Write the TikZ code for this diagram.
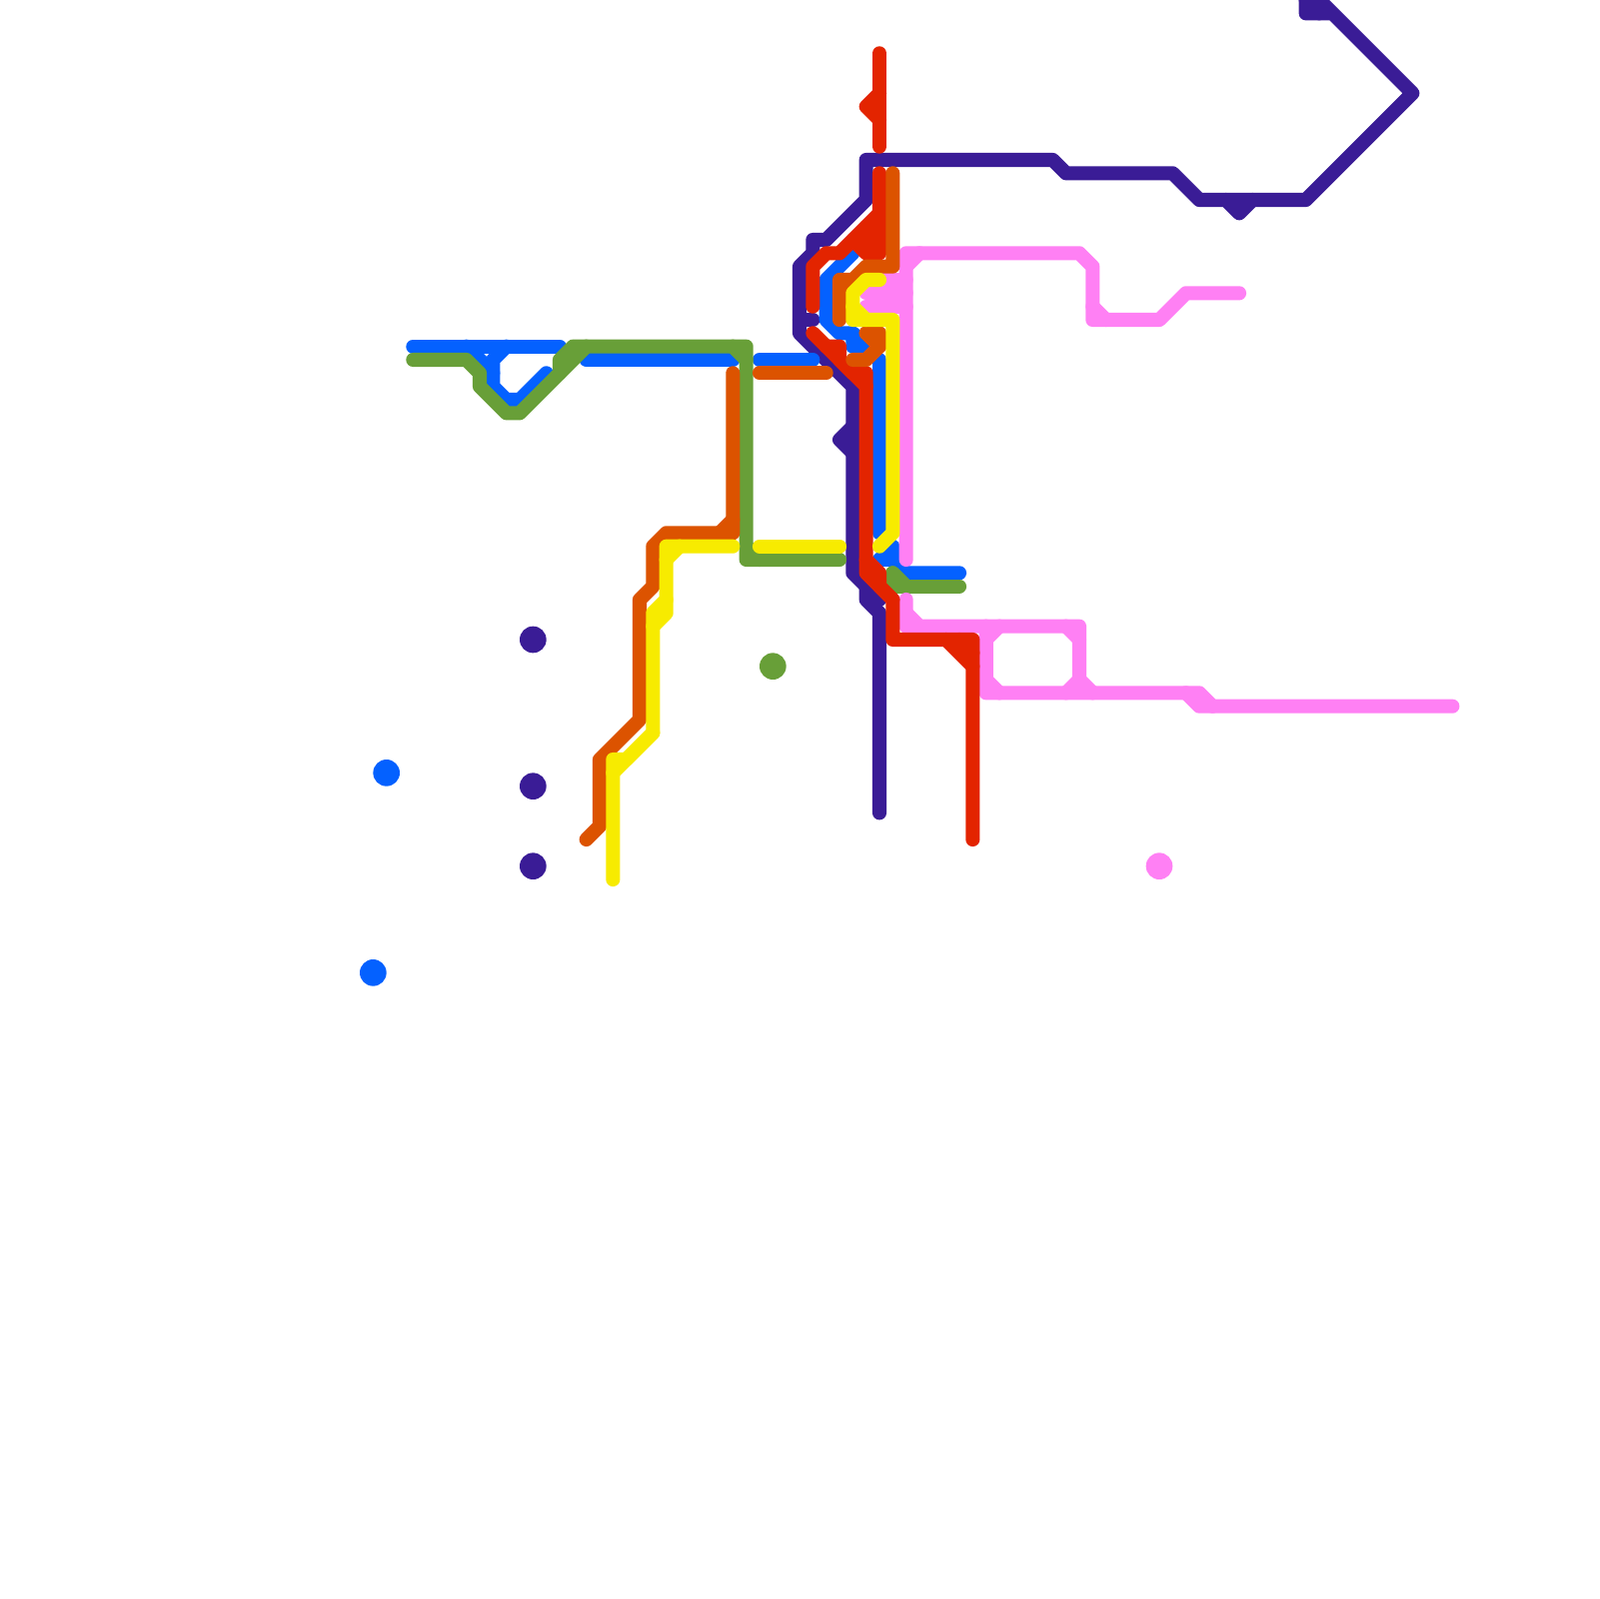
\documentclass[tikz,border=0pt]{standalone}
\definecolor{lpurple}{HTML}{3A1C96}
\definecolor{lblue}{HTML}{0461FF}
\definecolor{lgreen}{HTML}{689F38}
\definecolor{lpink}{HTML}{FF80F4}
\definecolor{lred}{HTML}{E32400}
\definecolor{lorange}{HTML}{DC5300}
\definecolor{lyellow}{HTML}{F7EB00}
\tikzset{
  metro/.style={line width=2.12mm,line cap=round,line join=round},
  purpleline/.style={metro,draw=lpurple},
  blueline/.style={metro,draw=lblue},
  greenline/.style={metro,draw=lgreen},
  pinkline/.style={metro,draw=lpink},
  redline/.style={metro,draw=lred},
  orangeline/.style={metro,draw=lorange},
  yellowline/.style={metro,draw=lyellow},
}
\begin{document}
\begin{tikzpicture}[x=2mm,y=-2mm]
\useasboundingbox (0,0) rectangle (120,120);
\fill[white] (0,0) rectangle (120,120);
\clip (0,0) rectangle (120,120);
% stations
\fill[lpurple] (40,48) circle (1);
\fill[lpurple] (40,59) circle (1);
\fill[lpurple] (40,65) circle (1);
\fill[lblue] (29,58) circle (1);
\fill[lblue] (28,73) circle (1);
\fill[lgreen] (58,50) circle (1);
\fill[lpink] (87,65) circle (1);
% purple
\draw[purpleline] (66,61) -- (66,46) -- (65,45) -- (65,44);
\draw[purpleline] (66,45) -- (64,43) -- (64,29) -- (60,25) -- (60,20) -- (61,19) -- (61,18) -- (62,18) -- (65,15) -- (65,12) -- (79,12) -- (80,13) -- (88,13) -- (90,15) -- (98,15) -- (106,7) -- (98,-1) -- (98,1) -- (100,1);
\draw[purpleline] (98,0) -- (99,0) -- (99,1);
\draw[purpleline] (60,24) -- (61,24);
\draw[purpleline] (64,32) -- (63,33) -- (64,34);
\draw[purpleline] (92,15) -- (93,16) -- (94,15);
% blue
\draw[blueline] (31,26) -- (42,26);
\draw[blueline] (35,26) -- (37,28) -- (37,29) -- (38,30) -- (39,30) -- (41,28);
\draw[blueline] (37,28) -- (37,27) -- (38,26);
\draw[blueline] (44,27) -- (55,27);
\draw[blueline] (57,27) -- (61,27);
\draw[blueline] (64,19) -- (62,21) -- (62,24) -- (63,25) -- (64,25) -- (65,26) -- (64,26) -- (64,25);
\draw[blueline] (66,27) -- (66,40);
\draw[blueline] (66,42) -- (67,41) -- (67,42) -- (68,43) -- (72,43);
\draw[blueline] (66,42) -- (67,42);
% green
\draw[greenline] (31,27) -- (35,27) -- (36,28) -- (36,29) -- (38,31) -- (39,31) -- (44,26);
\draw[greenline] (42,28) -- (42,27) -- (43,26) -- (56,26) -- (56,42) -- (63,42);
\draw[greenline] (55,26) -- (56,27);
\draw[greenline] (56,41) -- (57,42);
\draw[greenline] (67,43) -- (67,44) -- (72,44);
\draw[greenline] (67,43) -- (68,44);
% pink
\draw[pinkline] (68,42) -- (68,19) -- (81,19) -- (82,20) -- (82,24) -- (87,24) -- (89,22) -- (93,22);
\draw[pinkline] (68,20) -- (69,19);
\draw[pinkline] (82,23) -- (83,24);
\draw[pinkline] (65,22) -- (68,22);
\draw[pinkline] (65,23) -- (68,23);
\draw[pinkline] (66,21) -- (68,21);
\draw[pinkline] (68,45) -- (68,47) -- (69,48);
\draw[pinkline] (68,46) -- (69,47) -- (81,47) -- (81,51) -- (82,52);
\draw[pinkline] (74,47) -- (74,52) -- (90,52) -- (91,53) -- (109,53);
\draw[pinkline] (89,52) -- (90,53) -- (91,53);
\draw[pinkline] (74,48) -- (75,47);
\draw[pinkline] (74,51) -- (75,52);
\draw[pinkline] (80,47) -- (81,48);
\draw[pinkline] (80,52) -- (81,51);
% red
\draw[redline] (66,4) -- (66,11);
\draw[redline] (66,7) -- (65,8) -- (66,9);
\draw[redline] (61,23) -- (61,20) -- (62,19) -- (63,19) -- (66,16);
\draw[redline] (66,13) -- (66,19) -- (65,19) -- (64,18) -- (66,18);
\draw[redline] (65,17) -- (66,17);
\draw[redline] (61,25) -- (65,29) -- (65,43) -- (67,45) -- (67,48) -- (73,48) -- (73,63);
\draw[redline] (62,26) -- (63,26) -- (63,27) -- (64,28) -- (65,28) -- (65,29);
\draw[redline] (65,42) -- (66,43) -- (66,44) -- (67,45);
\draw[redline] (71,48) -- (73,50);
\draw[redline] (72,48) -- (73,49);
% orange
\draw[orangeline] (44,63) -- (45,62) -- (45,57) -- (48,54) -- (48,45) -- (49,44) -- (49,41) -- (50,40) -- (55,40) -- (55,28);
\draw[orangeline] (54,40) -- (55,39);
\draw[orangeline] (57,28) -- (62,28);
\draw[orangeline] (67,13) -- (67,20) -- (65,20) -- (64,21) -- (63,21) -- (63,24);
\draw[orangeline] (64,21) -- (63,22);
\draw[orangeline] (65,25) -- (66,25) -- (66,26) -- (65,27) -- (64,27);
\draw[orangeline] (65,25) -- (66,26);
% yellow
\draw[yellowline] (46,66) -- (46,57) -- (47,57) -- (49,55) -- (49,46) -- (50,45) -- (50,41) -- (55,41);
\draw[yellowline] (46,58) -- (49,55);
\draw[yellowline] (49,47) -- (50,46) -- (50,45);
\draw[yellowline] (50,42) -- (51,41);
\draw[yellowline] (57,41) -- (63,41);
\draw[yellowline] (66,21) -- (65,21) -- (64,22) -- (64,24) -- (67,24) -- (67,40) -- (66,41);
\draw[yellowline] (64,23) -- (65,24);
\end{tikzpicture}
\end{document}
